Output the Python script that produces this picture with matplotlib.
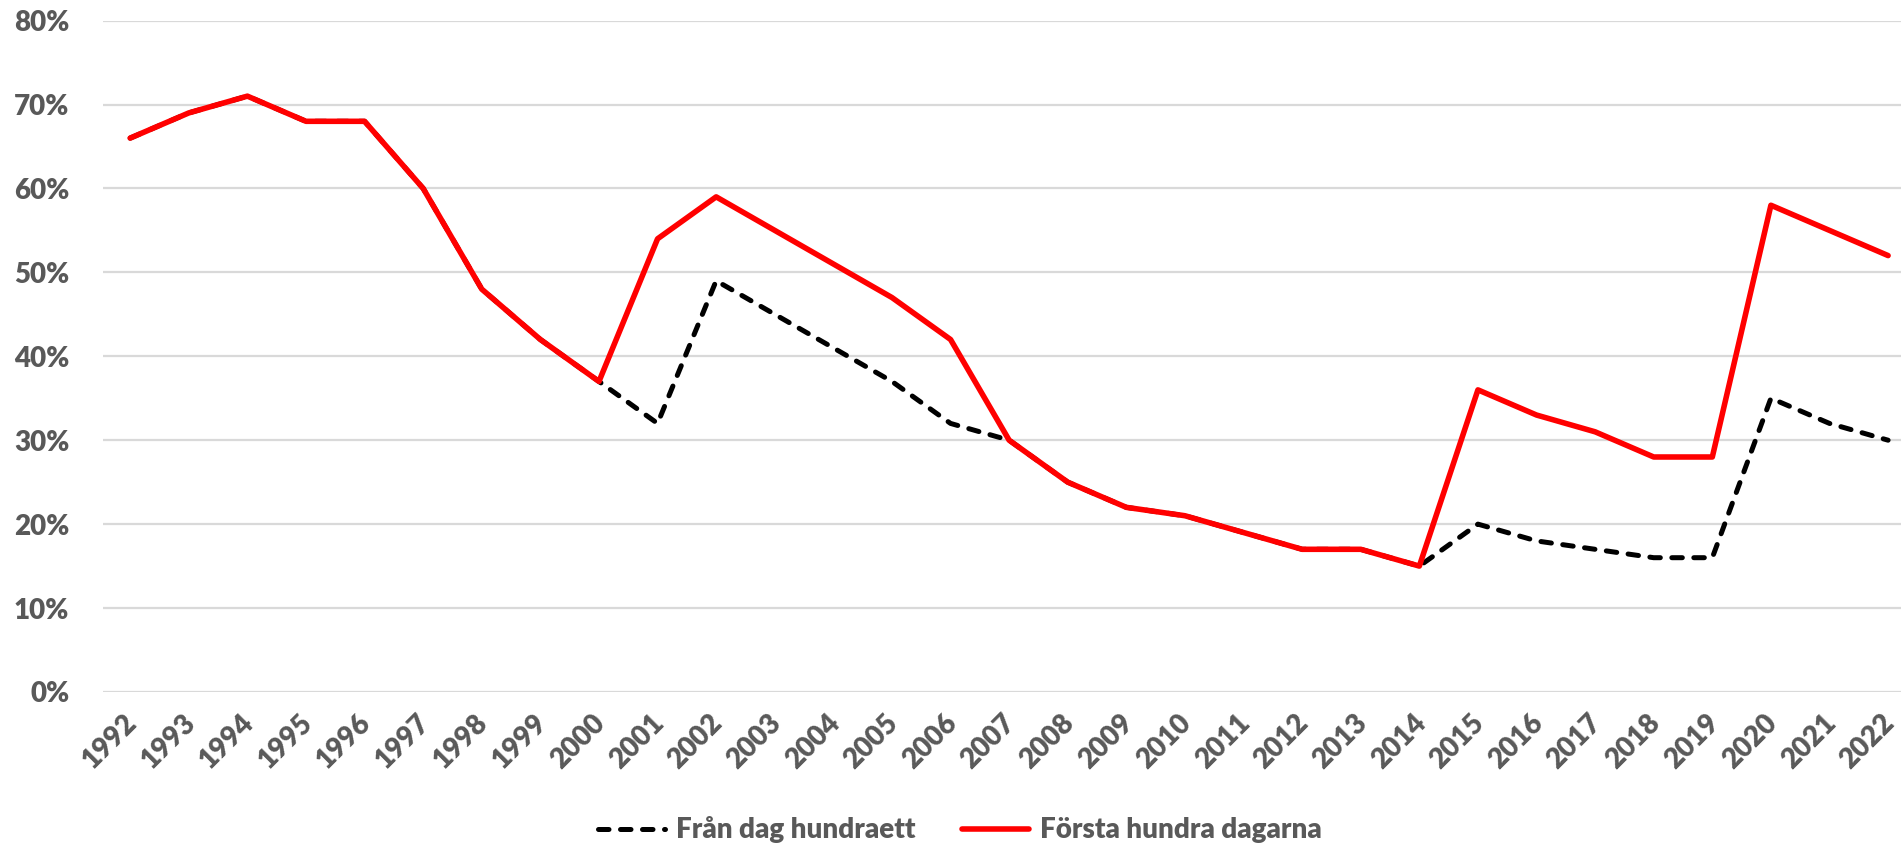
import matplotlib
matplotlib.use("Agg")
import matplotlib.pyplot as plt
import matplotlib.transforms as mtransforms
from matplotlib.ticker import PercentFormatter, MultipleLocator

years = list(range(1992, 2023))
forsta_hundra = [66, 69, 71, 68, 68, 60, 48, 42, 37, 54, 59, 55, 51, 47, 42, 30,
                 25, 22, 21, 19, 17, 17, 15, 36, 33, 31, 28, 28, 58, 55, 52]
fran_dag_101 = [66, 69, 71, 68, 68, 60, 48, 42, 37, 32, 49, 45, 41, 37, 32, 30,
                25, 22, 21, 19, 17, 17, 15, 20, 18, 17, 16, 16, 35, 32, 30]
labels = ["Från dag hundraett", "Första hundra dagarna"]

GREY = "#595959"
WEIGHT = "heavy"
plt.rcParams["font.family"] = ["Lato", "DejaVu Sans"]

fig = plt.figure(figsize=(19.01, 8.48), dpi=100)
ax = fig.add_axes([0.054, 0.184, 0.946, 0.7917])

ax.plot(years, fran_dag_101, color="black", lw=3.6, ls=(0, (2.1, 2.3)),
        dash_capstyle="round", solid_joinstyle="round", label=labels[0], zorder=3)
ax.plot(years, forsta_hundra, color="#ff0000", lw=4.0,
        solid_joinstyle="round", solid_capstyle="round", label=labels[1], zorder=4)

ax.set_ylim(0, 80)
ax.set_xlim(1991.53, 2022.22)
ax.yaxis.set_major_locator(MultipleLocator(10))
ax.yaxis.set_major_formatter(PercentFormatter(decimals=0))
ax.set_xticks(years)
ax.set_xticklabels([str(y) for y in years], rotation=45, ha="right",
                   va="top", rotation_mode="anchor")
ax.grid(axis="y", color="#d9d9d9", lw=1.6, zorder=0)
ax.set_axisbelow(True)
for s in ax.spines.values():
    s.set_visible(False)
ax.tick_params(axis="both", length=0, labelsize=20, labelcolor=GREY)
ax.tick_params(axis="y", pad=24)
ax.tick_params(axis="x", pad=13)
shift = mtransforms.ScaledTranslation(-7 / 100, 0, fig.dpi_scale_trans)
for t in ax.get_xticklabels():
    t.set_transform(t.get_transform() + shift)
for t in ax.get_xticklabels() + ax.get_yticklabels():
    t.set_fontweight(WEIGHT)

leg = fig.legend(loc="lower center", bbox_to_anchor=(0.505, -0.024), ncol=2,
                 frameon=False, fontsize=20, handlelength=2.4, handletextpad=0.4,
                 columnspacing=1.7)
for t in leg.get_texts():
    t.set_color(GREY)
    t.set_fontweight(WEIGHT)

fig.savefig("out.png", dpi=100, facecolor="white")
